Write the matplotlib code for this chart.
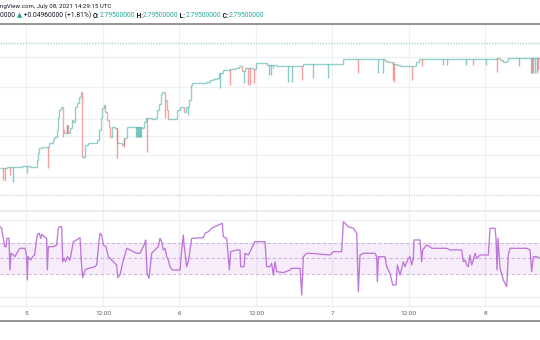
import bisect
import matplotlib
matplotlib.use("Agg")
import matplotlib.pyplot as plt
from matplotlib.collections import LineCollection
from matplotlib.lines import Line2D
import matplotlib.transforms as mtrans

# ---------------- data ----------------
# hours since 2021-07-05 00:00 UTC
price_hours = [-4.16, -3.11, -2.07, -0.75, 0.55, 1.70, 1.85, 2.01, 2.38, 3.58, 4.11, 4.36,
               4.74, 4.94, 5.15, 5.36, 5.68, 5.88, 6.31, 6.56, 6.82, 7.09, 7.34, 7.66,
               7.97, 8.24, 8.50, 8.76, 9.18, 9.70, 11.0, 11.42, 11.64, 11.89, 12.16, 12.37,
               12.58, 12.90, 13.10, 13.47, 13.88, 14.25, 14.94, 15.30, 15.72, 16.51, 18.08,
               18.44, 18.70, 19.64, 20.16, 20.43, 20.74, 21.06, 21.31, 21.68, 21.99, 22.25,
               23.41, 23.66, 24.08, 24.71, 25.03, 25.54, 25.76, 25.97, 28.16, 28.79, 29.31,
               29.84, 30.16, 30.88, 31.93, 32.71, 33.39, 33.77, 34.29, 35.59, 36.01, 37.78,
               39.26, 43.43, 49.71, 56.25, 56.77, 57.55, 58.08, 58.60, 59.65, 60.69, 61.11,
               61.63, 62.26, 73.76, 74.28, 74.80, 75.22, 75.58, 80.57]
price_close = [2.431, 2.434, 2.433, 2.437, 2.434, 2.457, 2.480, 2.496, 2.499, 2.512, 2.523, 2.534,
               2.557, 2.600, 2.623, 2.632, 2.557, 2.546, 2.573, 2.547, 2.563, 2.590, 2.583, 2.634,
               2.647, 2.667, 2.684, 2.468, 2.507, 2.513, 2.523, 2.557, 2.596, 2.629, 2.640, 2.617,
               2.590, 2.567, 2.534, 2.568, 2.562, 2.512, 2.507, 2.530, 2.568, 2.567, 2.563,
               2.583, 2.596, 2.593, 2.597, 2.623, 2.643, 2.677, 2.684, 2.657, 2.623, 2.592,
               2.592, 2.623, 2.634, 2.618, 2.633, 2.657, 2.707, 2.714, 2.717, 2.723, 2.726,
               2.729, 2.746, 2.757, 2.760, 2.763, 2.770, 2.753, 2.762, 2.760, 2.779, 2.773,
               2.771, 2.776, 2.792, 2.788, 2.782, 2.777, 2.773, 2.769, 2.770, 2.769, 2.783,
               2.792, 2.793, 2.796, 2.790, 2.784, 2.788, 2.796, 2.795]

# candle wicks reaching below the running price (1 = up candle, 0 = down candle)
spike_hours = [-3.74, -3.37, -2.59, -2.17, 0.03, 3.42, 5.78, 6.31, 8.91, 14.15, 15.30,
               17.20, 17.35, 17.50, 17.65, 17.80, 17.95, 18.86, 21.73,
               25.38, 30.36, 31.93, 34.13, 34.80, 35.07, 35.70, 38.09, 38.31, 38.62,
               41.08, 41.60, 43.17, 44.99, 47.34, 52.05, 55.20, 55.98, 57.45, 57.71,
               60.43, 62.00, 65.39, 66.02, 68.96, 69.99, 72.09, 73.76, 77.30, 79.08,
               79.24, 79.50, 79.77, 80.03, 80.30]
spike_low = [2.390, 2.388, 2.407, 2.384, 2.412, 2.429, 2.533, 2.547, 2.462, 2.462, 2.500,
             2.533, 2.533, 2.533, 2.533, 2.533, 2.533, 2.484, 2.597,
             2.607, 2.696, 2.707, 2.713, 2.707, 2.707, 2.712, 2.740, 2.740, 2.762,
             2.718, 2.718, 2.723, 2.729, 2.729, 2.746, 2.746, 2.746, 2.723, 2.717,
             2.723, 2.770, 2.773, 2.773, 2.773, 2.773, 2.773, 2.751, 2.770, 2.747,
             2.747, 2.747, 2.747, 2.747, 2.757]
spike_bull = [0, 0, 0, 1, 1, 0, 0, 0, 1, 0, 0,
              1, 1, 1, 1, 1, 1, 0, 0,
              1, 1, 0, 1, 0, 0, 0, 1, 1, 1,
              1, 1, 0, 1, 1, 0, 1, 1, 0, 0,
              0, 0, 1, 0, 1, 0, 1, 0, 1, 1,
              0, 1, 1, 1, 0]

rsi_hours = [-4.16, -3.90, -3.63, -3.42, -3.22, -3.06, -2.75, -2.59, -2.43, -2.06, -1.80, -1.54,
             -1.02, -0.23, 0.03, 0.13, 0.24, 0.65, 0.97, 1.28, 1.70, 2.01, 2.22, 2.43, 2.75,
             3.16, 3.27, 3.43, 4.21, 4.73, 4.99, 5.15, 5.52, 5.68, 5.89, 6.15, 6.41, 6.83,
             7.35, 7.87, 8.40, 8.60, 8.81, 9.18, 9.70, 10.75, 11.01, 11.27, 11.53, 11.79,
             12.06, 12.47, 12.84, 13.36, 13.89, 14.15, 14.30, 14.67, 15.19, 15.45, 15.72,
             16.24, 16.76, 17.29, 17.81, 18.07, 18.44, 18.70, 18.91, 19.22, 19.64, 20.16,
             20.68, 20.95, 21.21, 21.47, 21.73, 22.00, 22.26, 22.52, 22.88, 24.09, 24.35,
             24.61, 24.71, 24.92, 25.13, 25.39, 25.92, 27.75, 28.01, 28.53, 29.05, 30.10,
             30.73, 30.88, 31.41, 31.83, 32.03, 32.98, 33.50, 33.60, 34.13, 34.28, 34.81,
             35.07, 35.85, 37.42, 37.68, 38.21, 38.47, 38.73, 38.99, 39.26, 40.30, 41.35,
             41.61, 42.92, 43.18, 43.44, 43.96, 44.49, 47.62, 48.15, 49.45, 49.72, 50.24,
             50.50, 51.29, 51.81, 52.07, 52.33, 52.85, 54.68, 54.95, 55.05, 55.21, 56.25,
             56.52, 57.04, 57.46, 57.98, 58.19, 58.61, 59.13, 59.39, 59.91, 60.18, 60.44,
             60.70, 60.80, 61.74, 62.01, 62.16, 62.79, 63.31, 63.58, 65.93, 66.45, 68.28,
             68.54, 68.81, 69.07, 69.33, 69.59, 69.85, 70.11, 70.38, 70.64, 71.16, 72.47,
             72.73, 73.51, 73.67, 73.83, 73.98, 74.30, 74.82, 75.34, 75.60, 75.87, 78.48,
             79.00, 79.27, 79.53, 80.05, 80.57]
rsi_values = [91.0, 88.9, 76.0, 65.2, 65.2, 76.0, 76.0, 35.2, 56.7, 54.5, 52.3, 56.7,
              63.1, 63.1, 52.3, 22.3, 52.3, 48.0, 52.3, 54.5, 81.2, 82.5, 76.0, 81.2, 78.2,
              76.0, 35.2, 65.2, 65.2, 67.4, 88.9, 91.0, 91.0, 45.9, 50.2, 45.9, 52.3, 48.0,
              71.7, 73.9, 76.9, 45.9, 25.3, 35.2, 37.3, 39.4, 41.6, 63.1, 82.5, 80.3,
              67.4, 65.2, 52.3, 48.0, 43.8, 41.6, 25.3, 28.7, 48.0, 54.5, 63.1,
              61.0, 58.8, 56.7, 56.7, 61.0, 67.4, 73.9, 30.9, 24.4, 56.7, 61.0,
              65.2, 76.0, 71.7, 61.0, 63.1, 52.3, 48.0, 39.4, 35.2, 35.2, 61.0,
              80.3, 67.4, 54.5, 39.4, 45.9, 76.0, 76.9, 82.5, 84.6, 88.9, 93.2,
              95.3, 78.2, 76.0, 35.2, 58.8, 61.0, 61.0, 39.4, 39.4, 56.7, 54.5,
              58.8, 71.7, 71.7, 39.4, 39.4, 43.8, 28.7, 45.9, 33.0, 31.7, 35.2,
              37.3, 37.3, 2.9, 52.3, 56.7, 56.7, 54.5, 58.8, 58.8, 97.5, 93.2,
              91.0, 88.9, 82.5, 7.2, 54.5, 56.7, 56.7, 52.3, 20.1, 52.3, 52.3,
              39.4, 30.9, 15.8, 15.8, 41.6, 28.7, 45.9, 39.4, 50.2, 52.3, 41.6,
              50.2, 73.9, 73.9, 45.9, 61.0, 67.4, 65.2, 63.1, 63.1, 61.0, 61.0,
              45.9, 48.0, 41.6, 39.4, 54.5, 41.6, 48.0, 56.7, 50.2, 54.5, 54.5,
              88.9, 88.9, 76.0, 35.2, 76.0, 37.3, 22.3, 13.6, 54.5, 63.1, 63.1,
              61.0, 33.0, 52.3, 52.3, 50.2]

tick_hours = [0, 12, 24, 36, 48, 60, 72]
tick_labels = ["5", "12:00", "6", "12:00", "7", "12:00", "8"]
price_grid = [2.400, 2.473, 2.537, 2.593, 2.700, 2.800]
price_marker_line = 2.847
rsi_band = [30, 70]
rsi_mid = 50
rsi_grid = [0, 100]

header_line1 = "ngView.com, July 08, 2021 14:29:15 UTC"
header_prefix = "0000"
change_abs = 0.0496
change_pct = 1.81
ohlc_labels = ["O", "H", "L", "C"]
ohlc_values = [2.795, 2.795, 2.795, 2.795]

# ---------------- layout ----------------
W, H = 540, 340
fig = plt.figure(figsize=(W / 100, H / 100), dpi=100)
fig.patch.set_facecolor("white")

TEAL = "#26a69a"
RED = "#ef5350"
GRID = "#eff0f3"

def fy(py):
    return 1 - py / H

xlim = (-4.157, 80.57)

ax = fig.add_axes([0, fy(195), 1, (195 - 24) / H])
ax.set_xlim(*xlim)
ax.set_ylim(2.34, 2.91)
ax.axis("off")

rx = fig.add_axes([0, fy(306), 1, (306 - 195) / H])
rx.set_xlim(*xlim)
rx.set_ylim(-11.3, 131.9)
rx.axis("off")

# grids
for a in (ax, rx):
    for t in tick_hours:
        a.axvline(t, color=GRID, lw=0.9, zorder=0)
for g in price_grid:
    ax.axhline(g, color=GRID, lw=0.9, zorder=0)
for g in rsi_grid:
    rx.axhline(g, color=GRID, lw=0.9, zorder=0)

# price marker dotted line
ax.axhline(price_marker_line, color="#a6d8d2", lw=1.0, ls=(0, (1, 1)), zorder=1)

# price as stepped candles
segs, cols = [], []
for i in range(len(price_hours) - 1):
    t0, t1 = price_hours[i], price_hours[i + 1]
    p0, p1 = price_close[i], price_close[i + 1]
    segs.append([(t0, p0), (t1, p0)])
    cols.append(TEAL)
    segs.append([(t1, p0), (t1, p1)])
    cols.append(TEAL if p1 >= p0 else RED)
ax.add_collection(LineCollection(segs, colors=cols, linewidths=1.0, alpha=0.5, zorder=3))

wsegs, wcols = [], []
for t, lo, b in zip(spike_hours, spike_low, spike_bull):
    idx = max(bisect.bisect_right(price_hours, t) - 1, 0)
    lvl = price_close[idx]
    wsegs.append([(t, lvl), (t, lo)])
    wcols.append(TEAL if b else RED)
ax.add_collection(LineCollection(wsegs, colors=wcols, linewidths=1.0, alpha=0.55, zorder=3))

# RSI pane
rx.axhspan(rsi_band[0], rsi_band[1], color="#a033c8", alpha=0.09, lw=0, zorder=1)
for lv in rsi_band + [rsi_mid]:
    rx.axhline(lv, color="#cdb8db", lw=0.8, ls=(0, (3, 2)), zorder=2)
rx.plot(rsi_hours, rsi_values, color="#b363d3", lw=0.95, alpha=0.85, zorder=3)

# frame lines
def hline(py, color, lw, ls="-"):
    fig.add_artist(Line2D([0, 1], [fy(py), fy(py)], color=color, lw=lw, ls=ls,
                          transform=fig.transFigure))

hline(23.5, "#8c8c8c", 1.3)
hline(195.5, "#cfcfcf", 0.8, (0, (1, 1)))
hline(211, "#ececec", 1.4)
hline(306, "#ececec", 1.0)
hline(321, "#8c8c8c", 1.3)

# x tick labels
tr = mtrans.blended_transform_factory(rx.transData, fig.transFigure)
for t, lab in zip(tick_hours, tick_labels):
    fig.text(t, fy(313.5), lab, transform=tr, ha="center", va="center",
             fontsize=4.6, color="#5d606b", family=["Roboto", "DejaVu Sans"])

# header
FAM = ["Roboto", "DejaVu Sans"]
fig.text(0, fy(6.3), header_line1, ha="left", va="center", fontsize=4.45,
         color="#131722", family=FAM)

renderer = fig.canvas.get_renderer()
pieces = [(header_prefix + " ", "#131722", "normal"), ("\u25B2", TEAL, "normal"),
          (f" +{change_abs:.8f} (+{change_pct:.2f}%) ", "#131722", "normal")]
for k, (lab, val) in enumerate(zip(ohlc_labels, ohlc_values)):
    pieces.append(((" " if k else "") + lab + ":", "#131722", "bold"))
    pieces.append((f"{val:.8f}", TEAL, "normal"))
x = 0.0
for s, c, wgt in pieces:
    txt = fig.text(x, fy(15.8), s, ha="left", va="center", fontsize=4.9, color=c,
                   family=FAM, fontweight=wgt)
    bb = txt.get_window_extent(renderer)
    x = bb.x1 / fig.bbox.width

fig.savefig("out.png", dpi=100, facecolor="white")
